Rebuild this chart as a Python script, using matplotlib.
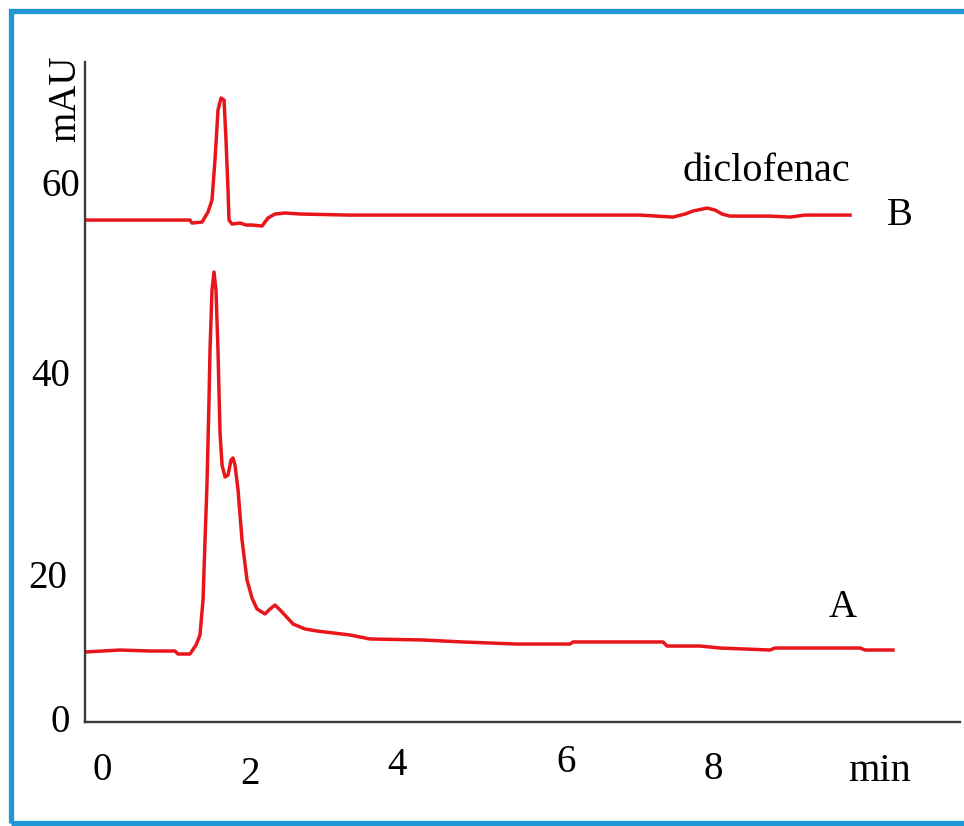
import matplotlib
matplotlib.use("Agg")
import matplotlib.pyplot as plt
from matplotlib.patches import Rectangle

plt.rcParams['font.family'] = ['Liberation Serif', 'DejaVu Serif']

# trace B (upper chromatogram), time in min, signal in mAU (as drawn)
b_time = [-0.196, 0.979, 1.175, 1.201, 1.332, 1.410, 1.462, 1.501, 1.540, 1.580,
          1.619, 1.645, 1.671, 1.684, 1.723, 1.828, 1.906, 1.984, 2.115, 2.193,
          2.285, 2.415, 2.611, 3.264, 4.569, 5.875, 7.050, 7.480, 7.637, 7.742,
          7.924, 8.029, 8.120, 8.225, 8.747, 9.008, 9.204, 9.791]
b_signal = [55.57, 55.57, 55.57, 55.24, 55.35, 56.46, 57.79, 62.22, 67.75, 69.08,
            68.86, 64.43, 58.89, 55.57, 55.13, 55.24, 55.02, 55.02, 54.91, 55.80,
            56.24, 56.35, 56.24, 56.12, 56.12, 56.12, 56.12, 55.90, 56.24, 56.57,
            56.90, 56.68, 56.24, 56.01, 56.01, 55.90, 56.12, 56.12]

# trace A (lower chromatogram)
a_time = [-0.196, 0.261, 0.653, 0.979, 1.018, 1.175, 1.253, 1.305, 1.345, 1.371,
          1.397, 1.423, 1.436, 1.462, 1.488, 1.514, 1.540, 1.567, 1.593, 1.632,
          1.671, 1.710, 1.736, 1.762, 1.802, 1.854, 1.919, 1.984, 2.050, 2.154,
          2.219, 2.285, 2.376, 2.520, 2.676, 2.833, 3.264, 3.525, 4.217, 4.739,
          5.444, 6.136, 6.175, 7.350, 7.402, 7.833, 8.094, 8.747, 8.812, 9.922,
          9.987, 10.352]
a_signal = [7.75, 7.97, 7.86, 7.86, 7.53, 7.53, 8.52, 9.63, 13.51, 20.15,
            26.46, 35.65, 41.18, 47.82, 49.82, 47.82, 41.18, 31.99, 28.45, 27.12,
            27.34, 29.00, 29.23, 28.45, 25.68, 20.15, 15.72, 13.73, 12.51, 11.96,
            12.51, 12.95, 12.18, 10.85, 10.30, 10.07, 9.63, 9.19, 9.08, 8.86,
            8.63, 8.63, 8.86, 8.86, 8.41, 8.41, 8.19, 7.97, 8.19, 8.19,
            7.97, 7.97]

# tick labels as printed, and where they sit on the axes
x_ticks = [0.026, 1.958, 3.877, 6.08, 8.0]
x_labels = ['0', '2', '4', '6', '8']
x_pads = [21.5, 24.5, 18.0, 16.0, 21.0]
y_ticks = [0.44, 16.4, 38.7, 59.8]
y_labels = ['0', '20', '40', '60']
y_pads = [10.8, 13.0, 10.8, 3.6]

red = '#e8161b'

fig = plt.figure(figsize=(9.64, 8.26), dpi=100)
fig.patches.append(Rectangle((11 / 964, 3 / 826), 957 / 964, 812 / 826,
                             transform=fig.transFigure, fill=False,
                             edgecolor='#1f97d4', linewidth=3.8))

ax = fig.add_axes([85 / 964, 104 / 826, 875 / 964, 660 / 826])
ax.plot(b_time, b_signal, color=red, lw=2.5, solid_joinstyle='round')
ax.plot(a_time, a_signal, color=red, lw=2.5, solid_joinstyle='round')

ax.set_xlim(-0.196, 11.227)
ax.set_ylim(0, 73.07)
for side in ['top', 'right']:
    ax.spines[side].set_visible(False)
for side in ['left', 'bottom']:
    ax.spines[side].set_color('#3a3a3a')
    ax.spines[side].set_linewidth(1.7)

ax.set_xticks(x_ticks, x_labels, fontsize=28)
ax.set_yticks(y_ticks, y_labels, fontsize=28)
ax.tick_params(length=0)
for t, p in zip(ax.xaxis.get_major_ticks(), x_pads):
    t.set_pad(p)
for t, p in zip(ax.yaxis.get_major_ticks(), y_pads):
    t.set_pad(p)

ax.text(-0.022, 0.945, 'mAU', transform=ax.transAxes, rotation=90,
        ha='center', va='center', fontsize=28)
ax.annotate('min', xy=(10.18, 0), xycoords=('data', 'axes fraction'),
            xytext=(0, -22), textcoords='offset points',
            ha='center', va='top', fontsize=29)
ax.text(8.7, 60.9, 'diclofenac', ha='center', va='center', fontsize=29)
ax.text(10.44, 56.1, 'B', ha='center', va='center', fontsize=28)
ax.text(9.7, 12.7, 'A', ha='center', va='center', fontsize=28)

fig.savefig('out.png', dpi=100)
